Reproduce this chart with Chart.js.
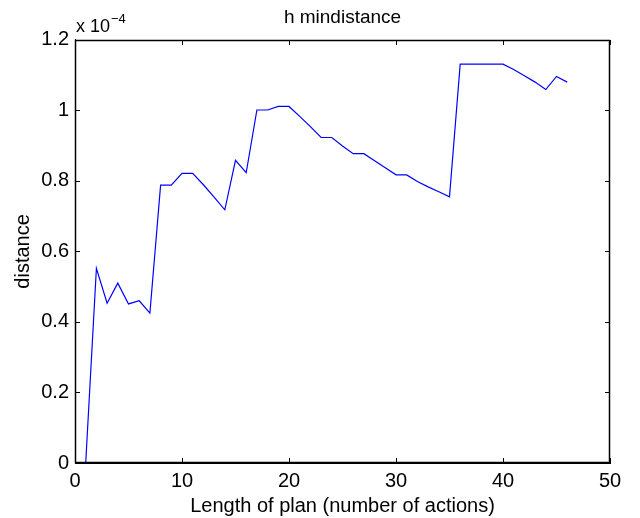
<!DOCTYPE html>
<html>
<head>
<meta charset="utf-8">
<script src="https://cdn.jsdelivr.net/npm/chart.js@4/dist/chart.umd.min.js"></script>
<style>
  html, body { margin: 0; padding: 0; background: #fff; }
  #wrap { width: 640px; height: 518px; }
</style>
</head>
<body>
<div id="wrap"><canvas id="chart" width="640" height="518"></canvas></div>
<script>
// plan lengths (x) and min distance values in units of 1e-4
const planLength = [1, 2, 3, 4, 5, 6, 7, 8, 9, 10, 11, 12, 13, 14, 15, 16, 17, 18, 19, 20, 21, 22, 23,
  24, 25, 26, 27, 28, 29, 30, 31, 32, 33, 34, 35, 36, 37, 38, 39, 40, 41, 42, 43, 44, 45, 46];
const minDistance = [0, 0.552, 0.453, 0.510, 0.451, 0.460, 0.425, 0.788, 0.788, 0.821, 0.821, 0.789,
  0.754, 0.718, 0.858, 0.823, 1.001, 1.001, 1.011, 1.011, 0.983, 0.954, 0.923, 0.923, 0.899, 0.877,
  0.877, 0.857, 0.837, 0.817, 0.817, 0.798, 0.783, 0.769, 0.755, 1.131, 1.131, 1.131, 1.131, 1.131,
  1.116, 1.098, 1.080, 1.059, 1.096, 1.080];
const xTicks = [0, 10, 20, 30, 40, 50];
const yTicks = [0, 0.2, 0.4, 0.6, 0.8, 1, 1.2];

const FONT = "'Liberation Sans', Arial, Helvetica, sans-serif";

// matlab style box with inward ticks plus the "x 10^-4" exponent label
const boxPlugin = {
  id: "matlabBox",
  afterDraw(chart) {
    const c = chart.ctx;
    const a = chart.chartArea;
    const len = 5;
    const l = Math.round(a.left);
    const r = Math.round(a.right);
    const t = Math.round(a.top);
    const b = Math.round(a.bottom);
    c.save();
    c.strokeStyle = "#000";
    c.lineWidth = 1.5;
    c.setLineDash([]);
    // frame
    c.beginPath();
    c.moveTo(l + 0.5, t + 0.5);
    c.lineTo(r - 0.5, t + 0.5);
    c.lineTo(r - 0.5, b - 0.5);
    c.lineTo(l + 0.5, b - 0.5);
    c.closePath();
    c.stroke();

    c.fillStyle = "#000";
    xTicks.forEach((v) => {
      const x = Math.round(chart.scales.x.getPixelForValue(v));
      c.fillRect(x, b - len, 1, len);
      c.fillRect(x, t, 1, len);
    });
    yTicks.forEach((v) => {
      const y = Math.round(chart.scales.y.getPixelForValue(v));
      c.fillRect(l, y, len, 1);
      c.fillRect(r - len, y, len, 1);
    });

    c.textBaseline = "alphabetic";
    c.textAlign = "left";
    c.font = "18px " + FONT;
    c.fillText("x 10", l + 1, t - 8);
    const w = c.measureText("x 10").width;
    c.font = "13px " + FONT;
    c.fillText("\u22124", l + 2 + w, t - 17);
    c.restore();
  },
};

const ctx = document.getElementById("chart").getContext("2d");
new Chart(ctx, {
  type: "line",
  data: {
    labels: planLength,
    datasets: [
      {
        label: "h mindistance",
        data: planLength.map((x, i) => ({ x: x, y: minDistance[i] })),
        borderColor: "#0000ff",
        borderWidth: 1.2,
        pointRadius: 0,
        fill: false,
        tension: 0,
      },
    ],
  },
  options: {
    responsive: false,
    animation: false,
    layout: { padding: { left: 0, right: 30, top: 0, bottom: 0 } },
    plugins: {
      legend: { display: false },
      tooltip: { enabled: false },
      title: {
        display: true,
        fullSize: false,
        text: "h mindistance",
        color: "#000",
        font: { family: FONT, size: 19, weight: "normal", lineHeight: 1.2 },
        padding: { top: 6, bottom: 11 },
      },
    },
    scales: {
      x: {
        type: "linear",
        min: 0,
        max: 50,
        afterFit: (scale) => { scale.height = 55; },
        afterBuildTicks: (scale) => { scale.ticks = xTicks.map((v) => ({ value: v })); },
        grid: { display: false, drawTicks: false },
        border: { display: true, color: "#000", width: 1 },
        ticks: { color: "#000", padding: 6, font: { family: FONT, size: 20 } },
        title: {
          display: true,
          text: "Length of plan (number of actions)",
          color: "#000",
          font: { family: FONT, size: 20 },
          padding: { top: 0, bottom: 0 },
        },
      },
      y: {
        min: 0,
        max: 1.2,
        afterFit: (scale) => { scale.width = 75; },
        afterBuildTicks: (scale) => { scale.ticks = yTicks.map((v) => ({ value: v })); },
        grid: { display: false, drawTicks: false },
        border: { display: true, color: "#000", width: 1 },
        ticks: {
          color: "#000",
          padding: 6,
          font: { family: FONT, size: 20 },
          callback: (v) => String(Math.round(v * 10) / 10),
        },
        title: {
          display: true,
          text: "distance",
          color: "#000",
          font: { family: FONT, size: 20 },
          padding: { top: 11, bottom: 0 },
        },
      },
    },
  },
  plugins: [boxPlugin],
});
</script>
</body>
</html>
